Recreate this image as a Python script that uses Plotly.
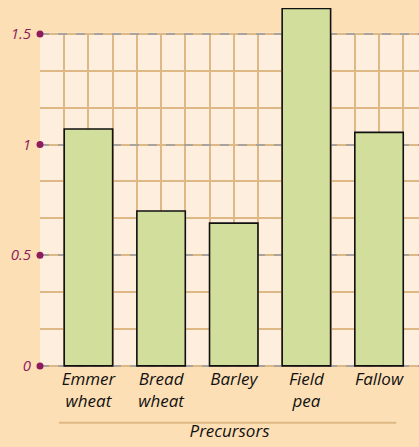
import plotly.graph_objects as go

categories = ["Emmer<br>wheat", "Bread<br>wheat", "Barley", "Field<br>pea", "Fallow"]
values = [1.07, 0.70, 0.645, 1.615, 1.055]
y_ticks = [0, 0.5, 1, 1.5]
y_ticktext = ["0", "0.5", "1", "1.5"]
x_title = "Precursors"

PAPER = "#FDDFB6"
PLOT = "#FEEEDD"
TAN = "#DFB985"
PURPLE = "#8E1B5E"

X_MIN, X_MAX = -2/3, 4.55
PAD = 0.005          # tiny pad so the edge gridlines are drawn
Y_MIN = -PAD
Y_MAX = 1.5 + PAD    # top of the gridded value axis
Y_TOP = 1.617        # room above for the tallest bar
positions = list(range(len(categories)))

fig = go.Figure()
# bars on their own (hidden) axes so they can rise above the grid
fig.add_trace(go.Bar(
    x=positions, y=values, width=2/3, xaxis="x2", yaxis="y2",
    marker=dict(color="#D2DE9C", line=dict(color="#111111", width=1.6)),
    hoverinfo="skip",
))
fig.add_trace(go.Scatter(
    x=[X_MIN] * len(y_ticks), y=y_ticks, mode="markers",
    marker=dict(color=PURPLE, size=7), cliponaxis=False, hoverinfo="skip",
))

fig.update_layout(
    width=419, height=447,
    margin=dict(l=40, r=0, t=8, b=80),
    paper_bgcolor=PAPER, plot_bgcolor="rgba(0,0,0,0)",
    showlegend=False,
    xaxis=dict(
        range=[X_MIN, X_MAX], automargin=False, anchor="y",
        tickmode="array", tickvals=positions, ticktext=categories,
        showgrid=False, zeroline=False, showline=False, ticks="",
        tickfont=dict(family="Open Sans", size=17, color="#111111", style="italic"),
        minor=dict(tick0=0, dtick=1/3, showgrid=True, gridcolor=TAN, gridwidth=1.5,
                   griddash="solid"),
        title=dict(text=x_title, standoff=14,
                   font=dict(family="Open Sans", size=17, color="#111111", style="italic")),
    ),
    yaxis=dict(
        range=[Y_MIN, Y_MAX], automargin=False, anchor="x",
        domain=[0, (Y_MAX - Y_MIN) / (Y_TOP - Y_MIN)],
        tickmode="array", tickvals=y_ticks, ticktext=y_ticktext,
        showgrid=True, gridcolor="#A8A39C", griddash="dash", gridwidth=1.5,
        zeroline=False, showline=False, ticks="",
        ticklabelstandoff=8,
        tickfont=dict(family="Open Sans", size=15, color=PURPLE, style="italic"),
        minor=dict(tick0=0, dtick=1/6, showgrid=True, gridcolor=TAN, gridwidth=1.5,
                   griddash="solid"),
    ),
    xaxis2=dict(range=[X_MIN, X_MAX], anchor="y2", visible=False, showgrid=False,
                zeroline=False, automargin=False),
    yaxis2=dict(range=[Y_MIN, Y_TOP], anchor="x2", domain=[0, 1], visible=False,
                showgrid=False, zeroline=False, automargin=False),
    shapes=[
        dict(type="rect", xref="x domain", yref="y domain", x0=0, x1=1, y0=0, y1=1,
             fillcolor=PLOT, line=dict(width=0), layer="below"),
        dict(type="line", xref="paper", yref="paper", x0=0.05, x1=0.94,
             y0=-0.155, y1=-0.155, line=dict(color=TAN, width=2)),
    ],
)

fig.write_html("out.html", config={"displayModeBar": False},
               post_script="document.body.style.margin='0';document.body.style.background='%s';" % PAPER)
